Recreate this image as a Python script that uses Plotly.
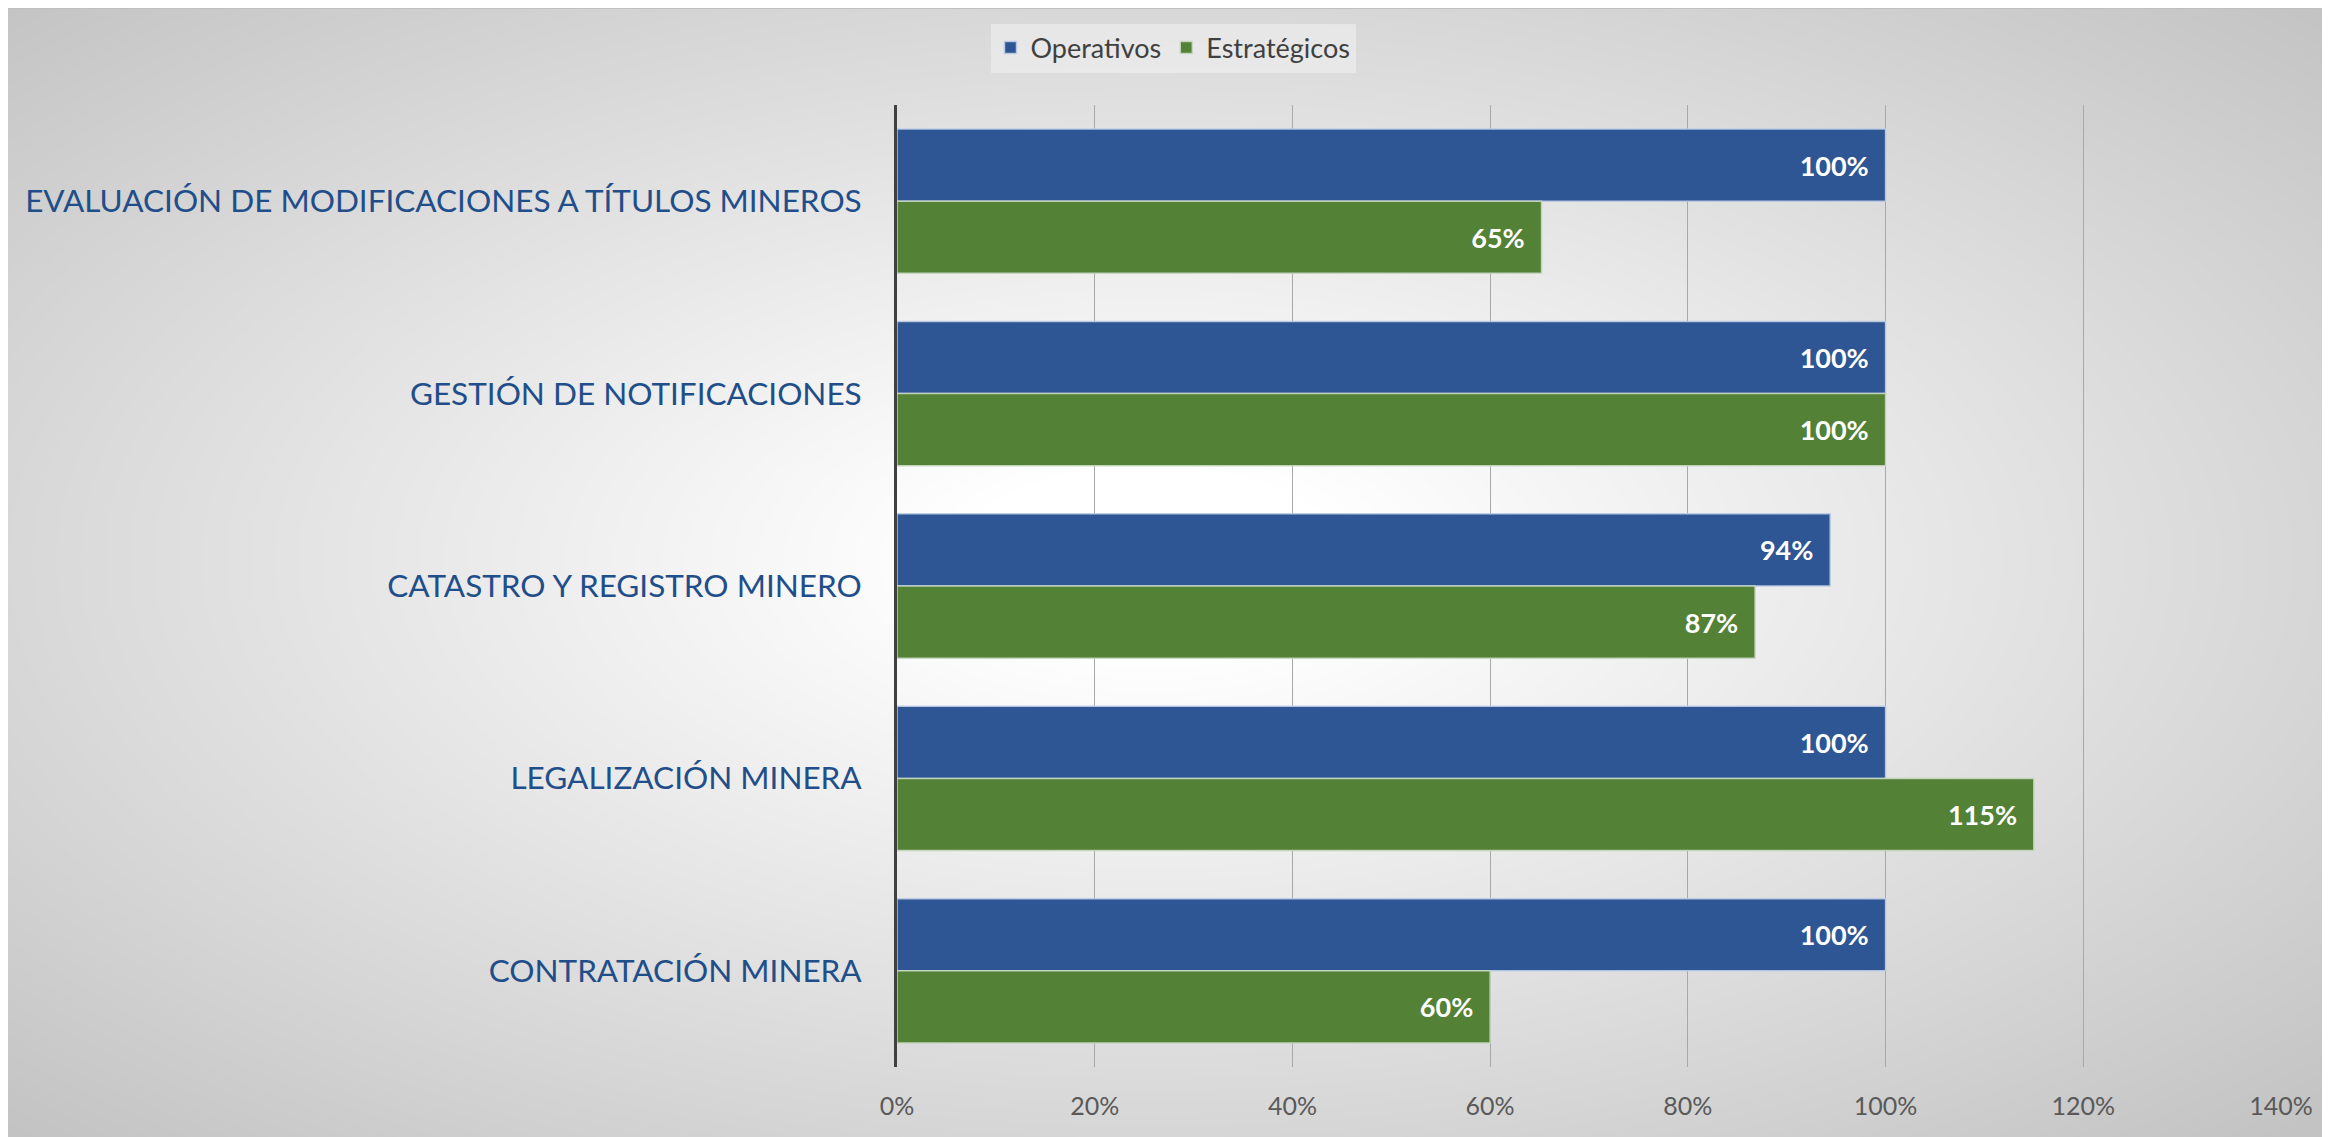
import base64, zlib, struct
import numpy as np
import plotly.graph_objects as go

# ---------------- data ----------------
categories = [
    "EVALUACIÓN DE MODIFICACIONES A TÍTULOS MINEROS",
    "GESTIÓN DE NOTIFICACIONES",
    "CATASTRO Y REGISTRO MINERO",
    "LEGALIZACIÓN MINERA",
    "CONTRATACIÓN MINERA",
]
operativos = [1.00, 1.00, 0.944, 1.00, 1.00]
estrategicos = [0.652, 1.00, 0.868, 1.15, 0.60]
series_names = ["Operativos", "Estratégicos"]
x_tick_vals = [0, 0.2, 0.4, 0.6, 0.8, 1.0, 1.2, 1.4]
x_tick_text = ["0%", "20%", "40%", "60%", "80%", "100%", "120%", "140%"]

# ---------------- layout constants ----------------
OFF = 8  # page body margin
W, H = 2330 - OFF, 1137 - OFF
ML, MR, MT, MB = 897 - OFF, 49, 105 - OFF, 70
PW, PH = W - ML - MR, H - MT - MB
FONT = "Lato"

# ---------------- background radial gradient (decorative) ----------------
def make_bg():
    ys, xs = np.mgrid[0:H, 0:W].astype(float)
    xs += OFF
    ys += OFF
    cx, cy, rx, ry = 1150.0, 560.0, 1650.0, 800.0
    d = np.sqrt(((xs - cx) / rx) ** 2 + ((ys - cy) / ry) ** 2)
    t = np.clip((d - 0.12) / 0.88, 0, 1)
    v = 255 - 60 * t
    v[:1, :] = 192
    img = np.clip(v, 0, 255).astype(np.uint8)
    raw = b"".join(b"\x00" + img[r].tobytes() for r in range(H))
    def chunk(tag, data):
        c = struct.pack(">I", len(data)) + tag + data
        return c + struct.pack(">I", zlib.crc32(tag + data) & 0xFFFFFFFF)
    png = b"\x89PNG\r\n\x1a\n"
    png += chunk(b"IHDR", struct.pack(">IIBBBBB", W, H, 8, 0, 0, 0, 0))
    png += chunk(b"IDAT", zlib.compress(raw, 9))
    png += chunk(b"IEND", b"")
    return "data:image/png;base64," + base64.b64encode(png).decode()

bg_src = make_bg()

# ---------------- figure ----------------
fig = go.Figure()
colors = ["#2E5594", "#538135"]
edge = ["rgba(190,205,230,0.9)", "rgba(200,215,195,0.9)"]
for name, vals, col, ec in zip(series_names, [operativos, estrategicos], colors, edge):
    fig.add_trace(go.Bar(
        y=categories, x=vals, name=name, orientation="h",
        marker=dict(color=col, line=dict(color=ec, width=1.5)),
        texttemplate="<b>%{x:.0%}</b>  ",
        textposition="inside", insidetextanchor="end",
        insidetextfont=dict(family=FONT, size=27, color="white"),
        constraintext="none", textangle=0,
        cliponaxis=False,
    ))

fig.update_layout(
    width=W, height=H,
    margin=dict(l=ML, r=MR, t=MT, b=MB, autoexpand=False),
    barmode="group", bargap=0.25, bargroupgap=0,
    paper_bgcolor="white", plot_bgcolor="rgba(0,0,0,0)",
    font=dict(family=FONT, color="#595959"),
    showlegend=True,
    legend=dict(
        orientation="h", x=(1173 - OFF - ML) / PW, xanchor="center",
        y=1 + (MT - (48 - OFF)) / PH, yanchor="middle",
        bgcolor="rgba(242,242,242,0.55)",
        font=dict(family=FONT, size=27, color="#404040"),
        itemwidth=30, tracegroupgap=0,
    ),
    images=[dict(
        source=bg_src, xref="paper", yref="paper",
        x=-ML / PW, y=1 + MT / PH, sizex=W / PW, sizey=H / PH,
        xanchor="left", yanchor="top", sizing="stretch", layer="below",
    )],
    xaxis=dict(
        range=[0, 1.4], tickvals=x_tick_vals, ticktext=x_tick_text,
        showgrid=True, gridcolor="#a8a8a8", gridwidth=1.3,
        zeroline=False, showline=False, ticks="",
        tickfont=dict(family=FONT, size=25, color="#595959"),
        ticklabelstandoff=22,
    ),
    yaxis=dict(
        categoryorder="array", categoryarray=categories, autorange="reversed",
        showgrid=False, zeroline=False, showline=True, linecolor="#404040",
        linewidth=3, ticks="",
        tickfont=dict(family=FONT, size=31.5, color="#1F4E8A"),
        ticklabelstandoff=26,
    ),
)

fig.write_html("out.html")
